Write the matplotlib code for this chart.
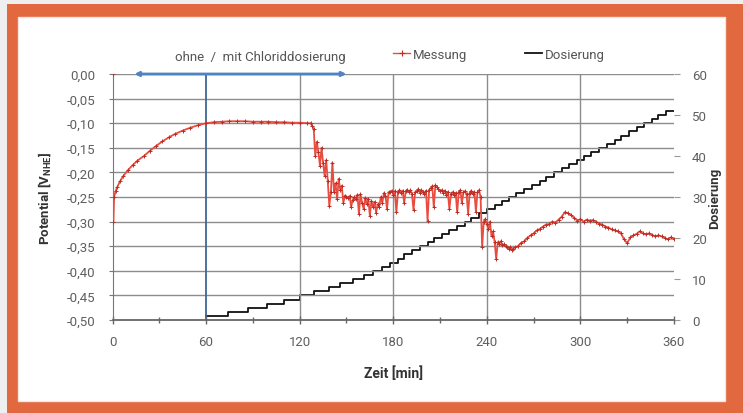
import numpy as np
import matplotlib
matplotlib.use('Agg')
import matplotlib.pyplot as plt
from matplotlib.patches import Rectangle
from matplotlib.lines import Line2D
from matplotlib.ticker import FuncFormatter, MultipleLocator

plt.rcParams['font.family'] = ['Roboto', 'DejaVu Sans']

# ---------------- data ----------------
x_ticks = [0, 60, 120, 180, 240, 300, 360]
y_left_ticks = [0.00, -0.05, -0.10, -0.15, -0.20, -0.25, -0.30, -0.35, -0.40, -0.45, -0.50]
y_right_ticks = [0, 10, 20, 30, 40, 50, 60]

# Messung (potential, V)
t_a = [0, 0.5, 1, 2, 3, 5, 7, 10, 13, 16, 20, 24, 28, 32, 36, 40, 45, 50, 55, 60,
       65, 70, 75, 80, 85, 90, 95, 100, 105, 110, 115, 120, 125, 127]
v_a = [0.00, -0.30, -0.25, -0.238, -0.230, -0.217, -0.207, -0.195, -0.185, -0.176,
       -0.167, -0.156, -0.146, -0.137, -0.129, -0.122, -0.115, -0.109, -0.104, -0.100,
       -0.098, -0.097, -0.096, -0.096, -0.096, -0.097, -0.097, -0.097, -0.098, -0.098,
       -0.099, -0.099, -0.100, -0.100]
t_b = list(range(128, 259))
v_b = [-0.105, -0.112, -0.166, -0.138, -0.159, -0.186, -0.150, -0.180, -0.207, -0.175,
       -0.217, -0.268, -0.240, -0.180, -0.240, -0.222, -0.255, -0.213, -0.235, -0.227,
       -0.262, -0.247, -0.250, -0.252, -0.248, -0.270, -0.256, -0.250, -0.254, -0.245,
       -0.285, -0.244, -0.262, -0.274, -0.252, -0.265, -0.254, -0.288, -0.258, -0.270,
       -0.260, -0.282, -0.265, -0.270, -0.250, -0.262, -0.242, -0.247, -0.275, -0.240,
       -0.240, -0.237, -0.245, -0.238, -0.281, -0.240, -0.236, -0.242, -0.237, -0.262,
       -0.238, -0.235, -0.240, -0.236, -0.244, -0.277, -0.240, -0.238, -0.234, -0.241,
       -0.236, -0.239, -0.243, -0.237, -0.298, -0.235, -0.232, -0.228, -0.270, -0.226,
       -0.230, -0.234, -0.238, -0.236, -0.241, -0.237, -0.245, -0.240, -0.275, -0.243,
       -0.240, -0.246, -0.242, -0.281, -0.239, -0.236, -0.262, -0.240, -0.238, -0.244,
       -0.284, -0.241, -0.237, -0.243, -0.239, -0.280, -0.240, -0.236, -0.250, -0.352,
       -0.300, -0.295, -0.305, -0.315, -0.300, -0.330, -0.320, -0.341, -0.376, -0.342,
       -0.345, -0.340, -0.348, -0.346, -0.350, -0.352, -0.356, -0.352, -0.358, -0.355, -0.352]
t_c = list(range(260, 361, 2))
v_c = [-0.350, -0.343, -0.340, -0.333, -0.328, -0.324, -0.318, -0.315, -0.310, -0.306,
       -0.305, -0.300, -0.302, -0.296, -0.290, -0.281, -0.283, -0.287, -0.292, -0.298,
       -0.295, -0.300, -0.296, -0.298, -0.297, -0.300, -0.304, -0.306, -0.310, -0.312,
       -0.316, -0.318, -0.320, -0.324, -0.336, -0.344, -0.332, -0.328, -0.325, -0.320,
       -0.324, -0.326, -0.324, -0.327, -0.330, -0.328, -0.330, -0.333, -0.336, -0.332,
       -0.335]
messung_t = t_a + t_b + t_c
messung_v = v_a + v_b + v_c

# Dosierung (step levels)
dos_t = [60, 74, 87, 99, 110, 120, 129, 139, 146, 154, 161, 167,
         173, 178, 183, 187, 192, 197, 202, 206, 211, 216, 221, 226, 230, 235,
         240, 245, 250, 254, 259, 264, 269, 274, 278, 283, 288, 293, 298, 302,
         307, 312, 317, 322, 326, 331, 336, 341, 346, 350, 355, 360]
dos_v = [1, 2, 3, 4, 5, 6, 7, 8, 9, 10, 11, 12,
         13, 14, 15, 16, 17, 18, 19, 20, 21, 22, 23, 24, 25, 26,
         27, 28, 29, 30, 31, 32, 33, 34, 35, 36, 37, 38, 39, 40,
         41, 42, 43, 44, 45, 46, 47, 48, 49, 50, 51, 51]

chlorid_start = 60
arrow_span = (14, 150)

# ---------------- figure ----------------
W, H = 743, 414
fig = plt.figure(figsize=(W / 100, H / 100), dpi=100)
fig.patch.set_facecolor('#efefef')
orange = '#e2683f'
fig.patches.append(Rectangle((7 / W, 0), 1 - 7 / W, 1 - 5 / H, transform=fig.transFigure,
                             facecolor=orange, edgecolor='none', zorder=-10))
fig.patches.append(Rectangle((18 / W, 12 / H), (725 - 18) / W, (396 - 12) / H,
                             transform=fig.transFigure, facecolor='white',
                             edgecolor='#f3e6de', lw=1, zorder=-9))

ax = fig.add_axes([112.5 / W, 1 - 321 / H, (674 - 112.5) / W, (321 - 75) / H])
ax.set_facecolor('none')
ax2 = ax.twinx()

tick_col = '#5f5f5f'
grid_col = '#8c8c8c'

ax.set_xlim(0, 360)
ax.set_ylim(-0.50, 0.0)
ax2.set_ylim(0, 60)

# grid
for yv in y_left_ticks[:-1]:
    ax.axhline(yv, color=grid_col, lw=1.0, zorder=0)
for xv in x_ticks[1:-1]:
    if xv != chlorid_start:
        ax.axvline(xv, color=grid_col, lw=1.0, zorder=0)
ax.axvline(chlorid_start, color='#3f6797', lw=1.3, zorder=1)

# arrow
ax.annotate('', xy=(arrow_span[1], 0.0), xytext=(arrow_span[0], 0.0),
            arrowprops=dict(arrowstyle='<|-|>', color='#4f84c4', lw=2.0,
                            mutation_scale=6, shrinkA=0, shrinkB=0),
            annotation_clip=False, zorder=5)

# series
ax2.plot(dos_t, dos_v, drawstyle='steps-post', color='#111111', lw=1.3, zorder=3)
ax.plot(messung_t, messung_v, color='#ea4d40', lw=1.3, marker='+', ms=2.6,
        mew=0.7, mec='#bb2e25', zorder=4)
ax.set_zorder(ax2.get_zorder() + 1)

# ticks
ax.set_xticks(x_ticks)
ax.xaxis.set_minor_locator(MultipleLocator(30))
ax.set_yticks(y_left_ticks)
ax.yaxis.set_major_formatter(FuncFormatter(lambda v, p: ('%.2f' % v).replace('.', ',').replace('-0,00', '0,00')))
ax2.set_yticks(y_right_ticks)

for s in ['top', 'right']:
    ax.spines[s].set_visible(False)
for s in ['top', 'right', 'left', 'bottom']:
    ax2.spines[s].set_visible(False)
ax.spines['left'].set_color('#777777')
ax.spines['bottom'].set_color('#666666')
ax.spines['bottom'].set_linewidth(1.3)

ax.tick_params(axis='x', which='both', direction='inout', length=6, width=1,
               color='#666666', labelsize=9.5, labelcolor=tick_col, pad=8)
ax.tick_params(axis='x', which='minor', length=5)
ax.tick_params(axis='y', direction='out', length=3, color='#777777',
               labelsize=9.5, labelcolor=tick_col, pad=9)
ax2.tick_params(axis='y', direction='out', length=4, color='#999999',
                labelsize=9.5, labelcolor=tick_col, pad=9)

ax.set_xlabel('Zeit [min]', fontsize=10, fontweight='bold', color='#333333', labelpad=12)
ax.set_ylabel('Potential [V$_{\\mathregular{NHE}}$]', fontsize=9.5, fontweight='bold',
              color='#333333', labelpad=10)
ax2.set_ylabel('Dosierung', fontsize=9.5, fontweight='bold', color='#333333',
               labelpad=1, rotation=90)

# text + legend
fig.text(260 / W, 1 - 58 / H, 'ohne  /  mit Chloriddosierung', ha='center', va='center',
         fontsize=9.5, color='#555555')
handles = [Line2D([], [], color='#ea4d40', lw=1.0, marker='+', ms=4, mew=0.8, mec='#bb2e25'),
           Line2D([], [], color='#111111', lw=1.3)]
fig.legend(handles, ['Messung', 'Dosierung'], ncol=2, frameon=False,
           loc='center left', bbox_to_anchor=(393 / W, 1 - 55 / H),
           borderpad=0, borderaxespad=0, handlelength=1.3, handletextpad=0.2,
           columnspacing=4.4, fontsize=9.5, labelcolor='#555555')

fig.savefig('out.png', dpi=100, facecolor=fig.get_facecolor())
